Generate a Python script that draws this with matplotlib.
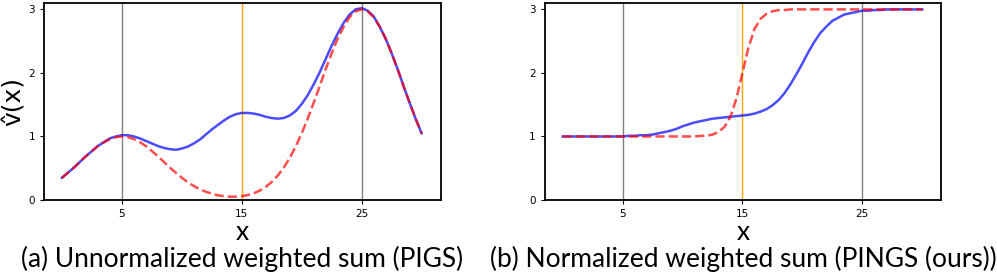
import numpy as np
import matplotlib
matplotlib.use("Agg")
import matplotlib.pyplot as plt

# sample positions (x), step 0.5
x = np.arange(0, 30.5, 0.5)

# (a) unnormalized weighted sum (PIGS)
pigs_blue = [0.35, 0.43, 0.51, 0.60, 0.69, 0.77, 0.85, 0.91, 0.97, 1.00,
             1.02, 1.02, 1.00, 0.97, 0.93, 0.89, 0.85, 0.82, 0.80, 0.79,
             0.81, 0.84, 0.89, 0.95, 1.03, 1.11, 1.18, 1.25, 1.31, 1.35,
             1.37, 1.37, 1.36, 1.34, 1.31, 1.29, 1.28, 1.29, 1.33, 1.40,
             1.51, 1.65, 1.82, 2.01, 2.22, 2.43, 2.62, 2.79, 2.92, 3.00,
             3.02, 2.98, 2.89, 2.73, 2.54, 2.31, 2.06, 1.79, 1.53, 1.28,
             1.05]
pigs_red = [0.35, 0.43, 0.51, 0.60, 0.69, 0.77, 0.85, 0.91, 0.96, 0.99,
            1.00, 0.99, 0.96, 0.91, 0.85, 0.77, 0.69, 0.60, 0.51, 0.43,
            0.35, 0.28, 0.22, 0.17, 0.13, 0.10, 0.075, 0.06, 0.052, 0.052,
            0.06, 0.078, 0.106, 0.148, 0.206, 0.284, 0.384, 0.509, 0.661, 0.842,
            1.05, 1.28, 1.53, 1.79, 2.06, 2.31, 2.54, 2.73, 2.88, 2.97,
            3.00, 2.97, 2.88, 2.73, 2.54, 2.31, 2.06, 1.79, 1.53, 1.28,
            1.05]

# (b) normalized weighted sum (PINGS)
pings_blue = [1.00, 1.00, 1.00, 1.00, 1.00, 1.00, 1.00, 1.00, 1.00, 1.00,
              1.00, 1.01, 1.01, 1.02, 1.02, 1.03, 1.05, 1.07, 1.09, 1.12,
              1.16, 1.19, 1.22, 1.24, 1.26, 1.28, 1.29, 1.30, 1.31, 1.32,
              1.33, 1.34, 1.36, 1.39, 1.43, 1.49, 1.57, 1.68, 1.82, 1.98,
              2.15, 2.33, 2.49, 2.63, 2.73, 2.82, 2.87, 2.92, 2.94, 2.96,
              2.98, 2.98, 2.99, 2.99, 3.00, 3.00, 3.00, 3.00, 3.00, 3.00,
              3.00]
pings_red = [1.00, 1.00, 1.00, 1.00, 1.00, 1.00, 1.00, 1.00, 1.00, 1.00,
             1.00, 1.00, 1.00, 1.00, 1.00, 1.00, 1.00, 1.00, 1.00, 1.00,
             1.00, 1.00, 1.00, 1.01, 1.01, 1.03, 1.07, 1.15, 1.31, 1.60,
             2.00, 2.40, 2.69, 2.85, 2.93, 2.97, 2.99, 2.99, 3.00, 3.00,
             3.00, 3.00, 3.00, 3.00, 3.00, 3.00, 3.00, 3.00, 3.00, 3.00,
             3.00, 3.00, 3.00, 3.00, 3.00, 3.00, 3.00, 3.00, 3.00, 3.00,
             3.00]

anchors = [5, 15, 25]
anchor_colors = ["gray", "orange", "gray"]
xticks = [5, 15, 25]
yticks = [0, 1, 2, 3]
captions = ["(a) Unnormalized weighted sum (PIGS)",
            "(b) Normalized weighted sum (PINGS (ours))"]

fig = plt.figure(figsize=(9.97, 2.77), dpi=100)
ax1 = fig.add_axes([0.0441, 0.278, 0.398, 0.711])
ax2 = fig.add_axes([0.5463, 0.278, 0.398, 0.711])

for ax, blue, red, cap in [(ax1, pigs_blue, pigs_red, captions[0]),
                           (ax2, pings_blue, pings_red, captions[1])]:
    for a, c in zip(anchors, anchor_colors):
        ax.axvline(a, color=c, lw=1.0, zorder=1)
    ax.plot(x, blue, color="blue", alpha=0.7, lw=1.8, zorder=2)
    ax.plot(x, red, color="red", alpha=0.7, lw=1.8, ls="--", zorder=3)
    ax.set_xlim(-1.5, 31.6)
    ax.set_ylim(0, 3.1)
    ax.set_xticks(xticks)
    ax.set_yticks(yticks)
    ax.tick_params(labelsize=7.5, length=3, width=0.8)
    for s in ax.spines.values():
        s.set_linewidth(1.3)
    pos = ax.get_position()
    cx = (pos.x0 + pos.x1) / 2
    fig.text(cx, 0.134, "x", ha="center", va="baseline", fontsize=19,
             family="Lato")
    fig.text(cx, 0.036, cap, ha="center", va="baseline", fontsize=19,
             family="Lato")

ax1.set_ylabel("v\u0302(x)", fontsize=18, labelpad=2)

fig.savefig("out.png", dpi=100)
